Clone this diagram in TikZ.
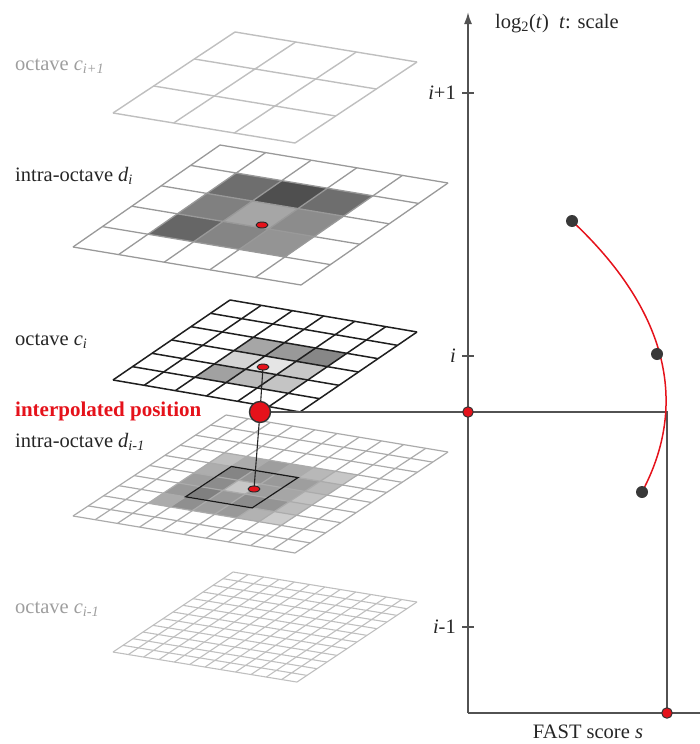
\documentclass[tikz,border=0pt]{standalone}
\usepackage{fontspec}
\setmainfont{Liberation Serif}
\usetikzlibrary{arrows.meta, shapes.geometric}

\definecolor{ptred}{HTML}{E5121B}

\pgfdeclarelayer{grids}
\pgfdeclarelayer{links}
\pgfsetlayers{grids,links,main}

% n x n cells in the current (skewed) x/y system
\newcommand{\octgrid}[1]{%
  \foreach \k in {0,...,#1}{\draw (\k,0) -- (\k,#1) (0,\k) -- (#1,\k);}}
\newcommand{\cellshade}[1]{%
  \foreach \ca/\cb/\cg in {#1}{\fill[black!\cg] (\ca,\cb) -- ++(1,0) -- ++(0,1) -- ++(-1,0) -- cycle;}}

\begin{document}
\begin{tikzpicture}[x=1pt,y=-1pt,line join=round,
  lbl/.style={anchor=base west,inner sep=0pt,font=\fontsize{20.5}{24}\selectfont,text=black!85},
  faint/.style={lbl,text=black!38},
  ticklbl/.style={lbl,anchor=base east},
  axis/.style={draw=black!68,line width=1.8pt},
  reddot/.style={circle,fill=ptred,draw=black!80,line width=1pt,inner sep=0pt,minimum size=10.5pt},
  bigdot/.style={reddot,minimum size=21pt,line width=1.4pt},
  scoredot/.style={circle,fill=black!78,inner sep=0pt,minimum size=12pt},
  marker/.style={ellipse,fill=ptred,draw=black!85,line width=0.9pt,inner sep=0pt,minimum width=12pt,minimum height=6pt},
  link/.style={draw=black!85,line width=1.1pt},
  fitcurve/.style={draw=ptred,line width=1.5pt}]

  \useasboundingbox (0,0) rectangle (700,744);

  % layer names
  \node[faint] (lc1) at (15,70) {octave \textit{c\textsubscript{i+1}}};
  \node[lbl] (ld1) at (15,181) {intra-octave \textit{d\textsubscript{i}}};
  \node[lbl] (lc0) at (15,345) {octave \textit{c\textsubscript{i}}};
  \node[lbl,font=\fontsize{21}{24}\selectfont\bfseries,text=ptred] (lip) at (15,416) {interpolated position};
  \node[lbl] (ld0) at (15,447) {intra-octave \textit{d\textsubscript{i-1}}};
  \node[faint] (lc2) at (15,613) {octave \textit{c\textsubscript{i-1}}};

  % axis labels
  \node[lbl] (ylab) at (495,28) {log\textsubscript{2}(\textit{t})\enspace\textit{t}: scale};
  \node[lbl,anchor=base] (xlab) at (588,738) {FAST score \textit{s}};
  \node[ticklbl] (tup) at (456,99) {\textit{i}+1};
  \node[ticklbl] (tmid) at (456,362) {\textit{i}};
  \node[ticklbl] (tlow) at (456,633) {\textit{i}-1};

  % points
  \node[marker] (m1) at (262,225) {};
  \node[marker] (m2) at (263,367) {};
  \node[marker] (m3) at (254,489) {};
  \node[bigdot] (ip) at (260,412) {};
  \node[reddot] (sax) at (468,412) {};
  \node[reddot] (smax) at (667,713) {};
  \node[scoredot] (s1) at (572,221) {};
  \node[scoredot] (s2) at (657,354) {};
  \node[scoredot] (s3) at (642,492) {};

  \coordinate (orig) at (468,713);
  \coordinate (ytop) at (468,12);
  \coordinate (xend) at (700,713);
  \coordinate (corner) at (667,412);

  \begin{pgfonlayer}{grids}
    % octave c_{i+1}
    \begin{scope}[shift={(235,32)},x={(60.67pt,-10pt)},y={(-40.67pt,-27pt)},color=black!25,line width=1.4pt]
      \octgrid{3}
    \end{scope}
    % intra-octave d_i
    \begin{scope}[shift={(220,145)},x={(45.6pt,-7.6pt)},y={(-29.4pt,-20.4pt)},color=black!40,line width=1.3pt]
      \cellshade{1/1/57,2/1/69,3/1/57,1/2/50,2/2/35,3/2/45,1/3/60,2/3/48,3/3/42}
      \octgrid{5}
    \end{scope}
    % octave c_i
    \begin{scope}[shift={(230,300)},x={(31.17pt,-5.33pt)},y={(-19.5pt,-13.33pt)},color=black!88,line width=1.5pt]
      \cellshade{2/2/35,3/2/40,4/2/47,2/3/17,3/3/10,4/3/22,2/4/37,3/4/27,4/4/23}
      \octgrid{6}
    \end{scope}
    % intra-octave d_{i-1}
    \begin{scope}[shift={(226,415)},x={(22.2pt,-3.7pt)},y={(-15.3pt,-10.1pt)},color=black!33,line width=1.2pt]
      \cellshade{2/3/25,3/3/33,4/3/38,5/3/33,6/3/28,7/3/22,
                 2/4/32,3/4/48,4/4/42,5/4/40,6/4/38,7/4/28,
                 2/5/38,3/5/45,4/5/22,5/5/38,6/5/35,7/5/24,
                 2/6/40,3/6/50,4/6/40,5/6/45,6/6/42,7/6/26,
                 2/7/33,3/7/44,4/7/38,5/7/40,6/7/30,7/7/20}
      \octgrid{10}
      \draw[black!90,line width=1.2pt] (3,4) -- (6,4) -- (6,7) -- (3,7) -- cycle;
    \end{scope}
    % octave c_{i-1}
    \begin{scope}[shift={(233,572)},x={(15.33pt,-2.5pt)},y={(-10pt,-6.67pt)},color=black!25,line width=1.1pt]
      \octgrid{12}
    \end{scope}
  \end{pgfonlayer}

  \begin{pgfonlayer}{links}
    \draw[axis,-{Latex[length=12pt,width=8pt]}] (orig) -- (ytop);
    \draw[axis] (orig) -- (xend);
    \foreach \ty in {93,356,627}
      \draw[axis] (462,\ty) -- (474,\ty);
    \draw[axis] (ip.center) -- (corner) -- (smax.center);
    \draw[link] (m2.center) -- (ip.center) -- (m3.center);
    \draw[fitcurve] (s1.center) .. controls (666,309) and (690,402) .. (s3.center);
  \end{pgfonlayer}
\end{tikzpicture}
\end{document}
